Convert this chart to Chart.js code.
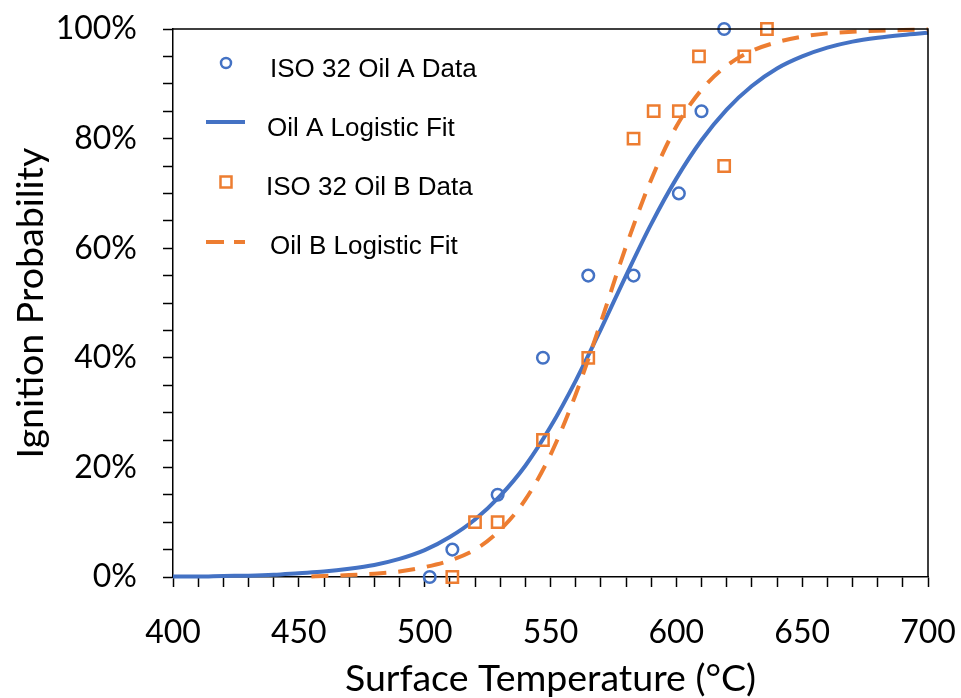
<!DOCTYPE html>
<html>
<head>
<meta charset="utf-8">
<script src="https://cdn.jsdelivr.net/npm/chart.js@4.4.1/dist/chart.umd.min.js"></script>
<style>
  html, body { margin: 0; padding: 0; background: #fff; }
  #wrap { width: 961px; height: 698px; position: relative; }
</style>
</head>
<body>
<div id="wrap"><canvas id="ignitionChart" width="961" height="698"></canvas></div>
<script>
// measured points (°C, % ignited)
const oilATemp = [502, 511, 529, 547, 565, 583, 601, 610, 619];
const oilAProb = [0, 5, 15, 40, 55, 55, 70, 85, 100];
const oilBTemp = [511, 520, 529, 547, 565, 583, 591, 601, 609, 619, 627, 636];
const oilBProb = [0, 10, 10, 25, 40, 80, 85, 85, 95, 75, 95, 100];

// logistic fit curves
const fitATemp = [400, 410, 420, 430, 440, 450, 460, 470, 480, 490, 500, 510, 520, 530, 540, 550,
                  560, 570, 580, 590, 600, 610, 620, 630, 640, 650, 660, 670, 680, 690, 700];
const fitAProb = [0.1, 0.1, 0.2, 0.25, 0.4, 0.7, 1.0, 1.5, 2.2, 3.3, 4.9, 7.3, 10.5, 14.8, 20.3, 27.4,
                  35.8, 45.2, 55.0, 64.4, 72.7, 79.7, 85.3, 89.6, 92.8, 95.0, 96.6, 97.7, 98.4, 98.9, 99.3];
const fitBTemp = [455, 460, 470, 480, 490, 500, 510, 520, 530, 540, 550, 560, 570, 580,
                  590, 600, 610, 620, 630, 640, 650, 660, 670, 680, 690, 700];
const fitBProb = [0.1, 0.2, 0.35, 0.6, 1.0, 1.8, 3.0, 5.0, 8.6, 14.1, 22.3, 33.3, 46.5, 60.3,
                  72.5, 82.2, 88.9, 93.3, 96.0, 97.6, 98.6, 99.2, 99.5, 99.7, 99.8, 99.9];

const xTicks = { min: 400, max: 700, step: 10, labelEvery: 50 };
const yTicks = { min: 0, max: 100, step: 5, labelEvery: 20 };

const blue = "#4472C4";
const orange = "#ED7D31";

const pairs = (xs, ys) => xs.map((x, i) => ({ x: x, y: ys[i] }));

// legend drawn inside the plot, like the original
const insideLegend = {
  id: "insideLegend",
  afterDraw(chart) {
    const ctx = chart.ctx;
    const rows = [
      { text: "ISO 32 Oil A Data", kind: "circle", color: blue, y: 63, tx: 270, by: 77 },
      { text: "Oil A Logistic Fit", kind: "line", color: blue, y: 122, tx: 267, by: 136 },
      { text: "ISO 32 Oil B Data", kind: "rect", color: orange, y: 182, tx: 266, by: 195 },
      { text: "Oil B Logistic Fit", kind: "dash", color: orange, y: 242, tx: 270, by: 254 },
    ];
    ctx.save();
    rows.forEach(r => {
      ctx.strokeStyle = r.color;
      ctx.beginPath();
      if (r.kind === "circle") {
        ctx.lineWidth = 2.5;
        ctx.arc(226, r.y, 5, 0, Math.PI * 2);
      } else if (r.kind === "rect") {
        ctx.lineWidth = 2.5;
        ctx.rect(220.5, r.y - 5.5, 11, 11);
      } else {
        ctx.lineWidth = 4;
        ctx.setLineDash(r.kind === "dash" ? [18, 10] : []);
        ctx.moveTo(206, r.y);
        ctx.lineTo(245, r.y);
      }
      ctx.stroke();
      ctx.setLineDash([]);
      ctx.fillStyle = "#000";
      ctx.font = "26px 'Liberation Sans', Arial, sans-serif";
      ctx.textBaseline = "alphabetic";
      ctx.fillText(r.text, r.tx, r.by);
    });
    ctx.restore();
  },
};

// top and right edges of the plot box
const frame = {
  id: "frame",
  afterDraw(chart) {
    const { ctx, chartArea: a } = chart;
    ctx.save();
    ctx.strokeStyle = "#000";
    ctx.lineWidth = 1.5;
    ctx.beginPath();
    ctx.moveTo(a.left, a.top);
    ctx.lineTo(a.right, a.top);
    ctx.lineTo(a.right, a.bottom);
    ctx.stroke();
    ctx.restore();
  },
};

const tickFont = { family: "Lato, 'Open Sans', sans-serif", size: 32 };
const titleFont = { family: "Lato, 'Open Sans', sans-serif", size: 37.5, lineHeight: 1.0 };

new Chart(document.getElementById("ignitionChart"), {
  type: "scatter",
  data: {
    datasets: [
      {
        label: "ISO 32 Oil A Data",
        data: pairs(oilATemp, oilAProb),
        pointStyle: "circle",
        pointRadius: 5.8,
        pointBorderWidth: 2.5,
        borderColor: blue,
        backgroundColor: "rgba(0,0,0,0)",
        clip: false,
        order: 4,
      },
      {
        label: "Oil A Logistic Fit",
        type: "line",
        data: pairs(fitATemp, fitAProb),
        borderColor: blue,
        borderWidth: 4,
        pointRadius: 0,
        cubicInterpolationMode: "monotone",
        clip: false,
        order: 3,
      },
      {
        label: "ISO 32 Oil B Data",
        data: pairs(oilBTemp, oilBProb),
        pointStyle: "rect",
        pointRadius: 8,
        pointBorderWidth: 2.5,
        borderColor: orange,
        backgroundColor: "rgba(0,0,0,0)",
        clip: false,
        order: 2,
      },
      {
        label: "Oil B Logistic Fit",
        type: "line",
        data: pairs(fitBTemp, fitBProb),
        borderColor: orange,
        borderWidth: 4,
        borderDash: [17, 12],
        pointRadius: 0,
        cubicInterpolationMode: "monotone",
        clip: false,
        order: 1,
      },
    ],
  },
  options: {
    responsive: false,
    animation: false,
    layout: { autoPadding: false, padding: { top: 29, right: 33, left: 0, bottom: 0 } },
    plugins: {
      legend: { display: false },
      tooltip: { enabled: false },
    },
    scales: {
      x: {
        type: "linear",
        min: xTicks.min,
        max: xTicks.max,
        afterFit: s => {
          s.height = 121;
          s.paddingLeft = 0;
          s.paddingRight = 0;
        },
        border: { color: "#000", width: 1.5 },
        grid: { drawOnChartArea: false, tickLength: 10, tickColor: "#000", tickWidth: 1.5 },
        ticks: {
          stepSize: xTicks.step,
          autoSkip: false,
          maxRotation: 0,
          padding: 26,
          color: "#000",
          font: tickFont,
          callback: v => (v % xTicks.labelEvery === 0 ? String(v) : ""),
        },
        title: {
          display: true,
          text: "Surface Temperature (°C)",
          color: "#000",
          font: titleFont,
          padding: { top: 0, bottom: 0 },
        },
      },
      y: {
        min: yTicks.min,
        max: yTicks.max,
        afterFit: s => {
          s.width = 173;
          s.paddingTop = 0;
          s.paddingBottom = 0;
        },
        border: { color: "#000", width: 1.5 },
        grid: { drawOnChartArea: false, tickLength: 10, tickColor: "#000", tickWidth: 1.5 },
        ticks: {
          stepSize: yTicks.step,
          autoSkip: false,
          padding: 26,
          color: "#000",
          font: tickFont,
          callback: v => (v % yTicks.labelEvery === 0 ? v + "%" : ""),
        },
        title: {
          display: true,
          text: "Ignition Probability",
          color: "#000",
          font: titleFont,
          padding: { top: 12, bottom: 12 },
        },
      },
    },
  },
  plugins: [insideLegend, frame],
});
</script>
</body>
</html>
